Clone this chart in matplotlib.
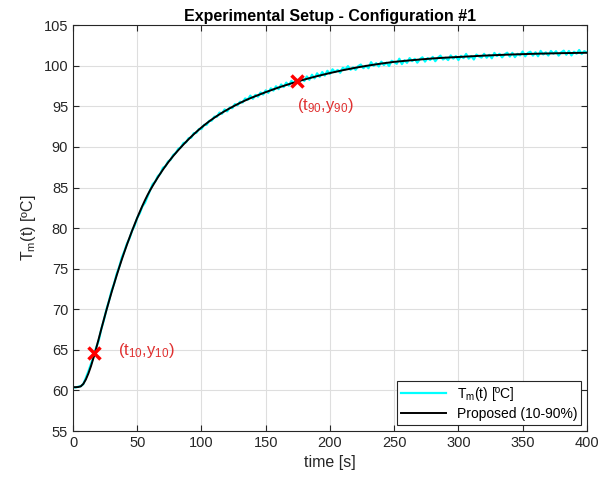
import matplotlib

matplotlib.use("Agg")
import matplotlib.pyplot as plt
import numpy as np

meas_time = np.arange(0, 401, 2)
meas_temp = [
    60.42, 60.36, 60.45, 60.52, 60.78, 61.55, 62.37, 63.25, 64.16, 65.27,
    66.14, 67.56, 68.65, 69.97, 71.04, 72.28, 73.15, 74.36, 75.24, 76.38,
    77.15, 78.09, 78.74, 79.68, 80.33, 81.27, 81.84, 82.68, 83.12, 83.89,
    84.63, 85.42, 85.73, 86.39, 86.71, 87.43, 87.62, 88.21, 88.42, 89.01,
    89.26, 89.77, 89.96, 90.49, 90.56, 91.08, 91.14, 91.69, 91.73, 92.20,
    92.21, 92.72, 92.73, 93.21, 93.24, 93.73, 93.71, 94.23, 94.09, 94.62,
    94.38, 94.86, 94.77, 95.27, 95.13, 95.56, 95.47, 95.97, 95.81, 96.32,
    95.93, 96.41, 96.19, 96.71, 96.45, 96.97, 96.66, 97.22, 96.93, 97.47,
    97.12, 97.69, 97.38, 97.92, 97.55, 98.14, 97.79, 98.31, 97.97, 98.52,
    98.12, 98.68, 98.27, 98.89, 98.45, 99.07, 98.63, 99.22, 98.79, 99.38,
    99.00, 99.56, 99.22, 99.48, 99.14, 99.75, 99.55, 99.95, 99.50, 99.80,
    99.50, 99.95, 100.15, 99.70, 100.00, 99.70, 100.44, 99.98, 100.32, 99.91,
    100.50, 100.09, 100.38, 99.97, 100.61, 100.45, 100.24, 100.87, 100.20, 100.68,
    100.36, 100.94, 100.57, 100.85, 100.38, 100.81, 101.04, 100.51, 100.94, 100.71,
    101.09, 100.56, 100.98, 101.25, 100.77, 100.99, 100.70, 101.27, 100.88, 101.19,
    100.70, 101.22, 100.94, 101.46, 100.88, 101.20, 100.77, 101.38, 101.15, 101.01,
    101.47, 100.99, 101.35, 100.92, 101.58, 101.20, 101.47, 101.03, 101.40, 101.61,
    101.13, 101.59, 101.06, 101.47, 101.28, 101.75, 101.16, 101.57, 101.73, 101.25,
    101.66, 101.17, 101.83, 101.39, 101.65, 101.26, 101.82, 101.48, 101.79, 101.25,
    101.65, 101.86, 101.36, 101.82, 101.27, 101.73, 101.48, 101.94, 101.44, 101.80,
    101.62,
]

# proposed (10-90%) model response: every 2 s up to 140 s, then coarser
model_time = list(range(0, 141, 2)) + [150, 160, 170, 180, 190, 200, 210, 220, 230,
                                       240, 250, 260, 270, 280, 290, 300, 320, 340,
                                       360, 380, 400]
model_temp = [
    60.40, 60.40, 60.42, 60.50, 60.80, 61.35, 62.10, 63.00, 64.05, 65.17,
    66.35, 67.55, 68.73, 69.88, 71.00, 72.09, 73.15, 74.18, 75.18, 76.14,
    77.07, 77.97, 78.84, 79.68, 80.49, 81.27, 82.02, 82.74, 83.43, 84.07,
    84.66, 85.20, 85.73, 86.24, 86.73, 87.20, 87.65, 88.08, 88.49, 88.88,
    89.25, 89.61, 89.96, 90.30, 90.63, 90.95, 91.26, 91.56, 91.85, 92.13,
    92.40, 92.66, 92.91, 93.15, 93.38, 93.60, 93.81, 94.01, 94.21, 94.40,
    94.58, 94.76, 94.93, 95.10, 95.26, 95.42, 95.57, 95.72, 95.86, 96.00,
    96.13,
    96.75, 97.32, 97.83, 98.30, 98.72, 99.10, 99.45, 99.76, 100.03,
    100.27, 100.48, 100.63, 100.77, 100.90, 101.00, 101.08, 101.25, 101.38,
    101.48, 101.55, 101.60,
]

# 10% and 90% points
mark_time = [16.5, 174]
mark_temp = [64.6, 98.1]
mark_labels = ["(t$_{10}$,y$_{10}$)", "(t$_{90}$,y$_{90}$)"]

plt.rcParams["font.family"] = ["Liberation Sans", "DejaVu Sans"]
plt.rcParams["mathtext.default"] = "regular"

fig = plt.figure(figsize=(6.01, 4.84), dpi=100)
ax = fig.add_axes([0.1215, 0.1095, 0.855, 0.8385])

ax.plot(meas_time, meas_temp, color=(0, 1, 1), lw=1.6, label="T$_m$(t) [ºC]")
ax.plot(model_time, model_temp, color="black", lw=1.4, label="Proposed (10-90%)")
ax.plot(mark_time, mark_temp, "x", color="red", ms=8, mew=2.5, zorder=5)

ax.text(35, 64.9, mark_labels[0], color="#e03131", fontsize=12, ha="left", va="center")
ax.text(174, 95.1, mark_labels[1], color="#e03131", fontsize=12, ha="left", va="center")

ax.set_xlim(0, 400)
ax.set_ylim(55, 105)
ax.set_xticks(np.arange(0, 401, 50))
ax.set_yticks(np.arange(55, 106, 5))
ax.tick_params(direction="in", length=4, labelsize=10.5, colors="#262626",
               top=True, right=True)
ax.grid(True, color="#dedede", lw=0.8)
ax.set_axisbelow(True)
for spine in ax.spines.values():
    spine.set_color("#262626")
    spine.set_linewidth(0.8)

ax.set_xlabel("time [s]", fontsize=11.5, color="#262626")
ax.set_ylabel("T$_m$(t) [ºC]", fontsize=11.5, color="#262626")
ax.set_title("Experimental Setup - Configuration #1", fontsize=11.5, fontweight="bold",
             pad=3)

leg = ax.legend(loc="lower right", fontsize=10, fancybox=False, framealpha=1,
                edgecolor="#262626", borderaxespad=0.4, handlelength=3.2,
                borderpad=0.3, labelspacing=0.3)
leg.get_frame().set_linewidth(0.8)

fig.savefig("out.png", dpi=100)
